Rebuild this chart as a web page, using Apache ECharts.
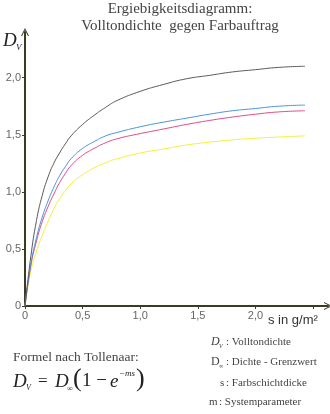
<!DOCTYPE html>
<html>
<head>
<meta charset="utf-8">
<script src="https://cdn.jsdelivr.net/npm/echarts@6/dist/echarts.min.js"></script>
<style>
html,body{margin:0;padding:0;background:#fff;}
#chart{width:330px;height:414px;}
</style>
</head>
<body>
<div id="chart"></div>
<script>
// Layer thickness s in g/m²
var sValues = [0, 0.05, 0.1, 0.15, 0.2, 0.25, 0.3, 0.35, 0.4, 0.5, 0.6, 0.7, 0.8, 1.0, 1.2, 1.4, 1.6, 1.8, 2.0, 2.2, 2.43];
// Solid density D_V per curve
var blackD  = [0, 0.43, 0.75, 0.97, 1.13, 1.25, 1.34, 1.42, 1.49, 1.59, 1.67, 1.74, 1.80, 1.88, 1.94, 1.99, 2.02, 2.05, 2.07, 2.09, 2.10];
var blueD   = [0, 0.36, 0.60, 0.78, 0.92, 1.04, 1.14, 1.22, 1.29, 1.38, 1.44, 1.49, 1.52, 1.57, 1.61, 1.645, 1.68, 1.71, 1.73, 1.75, 1.76];
var pinkD   = [0, 0.35, 0.57, 0.74, 0.87, 0.98, 1.08, 1.16, 1.23, 1.32, 1.38, 1.43, 1.465, 1.51, 1.55, 1.59, 1.625, 1.655, 1.68, 1.70, 1.71];
var yellowD = [0, 0.30, 0.48, 0.62, 0.74, 0.85, 0.94, 1.01, 1.07, 1.15, 1.21, 1.255, 1.29, 1.34, 1.375, 1.41, 1.435, 1.455, 1.47, 1.48, 1.49];
var seriesNames = ['Schwarz', 'Cyan', 'Magenta', 'Gelb'];
var seriesColors = ['#5a5a5a', '#4a94dc', '#e04a86', '#f4ef3a'];

function pairs(ys){ return sValues.map(function(s,i){ return [s, ys[i]]; }); }
function fmt(v){
  if (v > 2.01) return '';
  if (v === 0) return '0';
  return v.toFixed(1).replace('.', ',');
}

var axisColor = '#3b3a22';
var chevron = 'path://M5,0 L10,10 L8.6,10 L5,2.6 L1.4,10 L0,10 Z';
var serif = '"Liberation Serif", "DejaVu Serif", serif';
var sans = '"Liberation Sans", Arial, sans-serif';

var chart = echarts.init(document.getElementById('chart'), null, {renderer:'canvas'});
var dataSets = [blackD, blueD, pinkD, yellowD];

function t(x, y, text, font, fill, align){
  return {type: 'text', x: x, y: y, style: {text: text, font: font, fill: fill || '#222', textAlign: align || 'left'}};
}

chart.setOption({
  animation: false,
  backgroundColor: '#fff',
  grid: {left: 25, right: 2, top: 32, bottom: 108, containLabel: false},
  xAxis: {
    type: 'value', min: 0, max: 2.63, interval: 0.5,
    axisLine: {show: true, symbol: ['none', chevron], symbolSize: [9, 8],
      lineStyle: {color: axisColor, width: 2}},
    axisTick: {show: true, length: 3, lineStyle: {color: axisColor, width: 1}},
    axisLabel: {formatter: fmt, color: '#666', fontFamily: sans, fontSize: 11, margin: 4, showMaxLabel: false},
    splitLine: {show: false}
  },
  yAxis: {
    type: 'value', min: 0, max: 2.4, interval: 0.5,
    axisLine: {show: true, symbol: ['none', chevron], symbolSize: [9, 8],
      lineStyle: {color: axisColor, width: 2}},
    axisTick: {show: true, length: 3, lineStyle: {color: axisColor, width: 1}},
    axisLabel: {formatter: fmt, color: '#666', fontFamily: sans, fontSize: 11, margin: 4, showMaxLabel: false},
    splitLine: {show: false}
  },
  series: dataSets.map(function(d, i){
    return {
      name: seriesNames[i], type: 'line', data: pairs(d), smooth: 0.5,
      showSymbol: false, z: 3 - i,
      lineStyle: {color: seriesColors[i], width: 1}
    };
  }),
  graphic: [
    t(180, 2, 'Ergiebigkeitsdiagramm:', '15px ' + serif, '#444', 'center'),
    t(180, 19, 'Volltondichte  gegen Farbauftrag', '15px ' + serif, '#444', 'center'),
    // D_V axis label
    t(3, 31, 'D', 'italic 19px ' + serif),
    t(16, 43, 'V', 'italic 9px ' + serif),
    // x axis name
    t(268, 314, 's in g/m²', '13px ' + sans, '#333'),
    // Formula
    t(13, 350, 'Formel nach Tollenaar:', '13.5px ' + serif, '#444'),
    t(13, 372, 'D', 'italic 19px ' + serif),
    t(26, 384, 'V', 'italic 8px ' + serif),
    t(38, 373, '=', '17px ' + serif),
    t(55, 372, 'D', 'italic 19px ' + serif),
    t(67, 385, '∞', '8px ' + serif),
    t(73, 366, '(', '26px ' + serif),
    t(82, 372, '1 − ', '19px ' + serif),
    t(110, 372, 'e', 'italic 19px ' + serif),
    t(119, 369, '−ms', 'italic 9px ' + serif),
    t(136, 366, ')', '26px ' + serif),
    // Legend of symbols
    t(211, 336, 'D', 'italic 12px ' + serif, '#444'),
    t(219, 343, 'V', 'italic 6px ' + serif, '#444'),
    t(226, 337, ': Volltondichte', '11px ' + serif, '#444'),
    t(211, 356, 'D', '12px ' + serif, '#444'),
    t(219, 363, '∞', '6px ' + serif, '#444'),
    t(226, 357, ': Dichte - Grenzwert', '11px ' + serif, '#444'),
    t(220, 378, 's', '11px ' + serif, '#444'),
    t(226, 378, ': Farbschichtdicke', '11px ' + serif, '#444'),
    t(209, 397, 'm', '11px ' + serif, '#444'),
    t(219, 397, ': Systemparameter', '11px ' + serif, '#444')
  ]
});
</script>
</body>
</html>
